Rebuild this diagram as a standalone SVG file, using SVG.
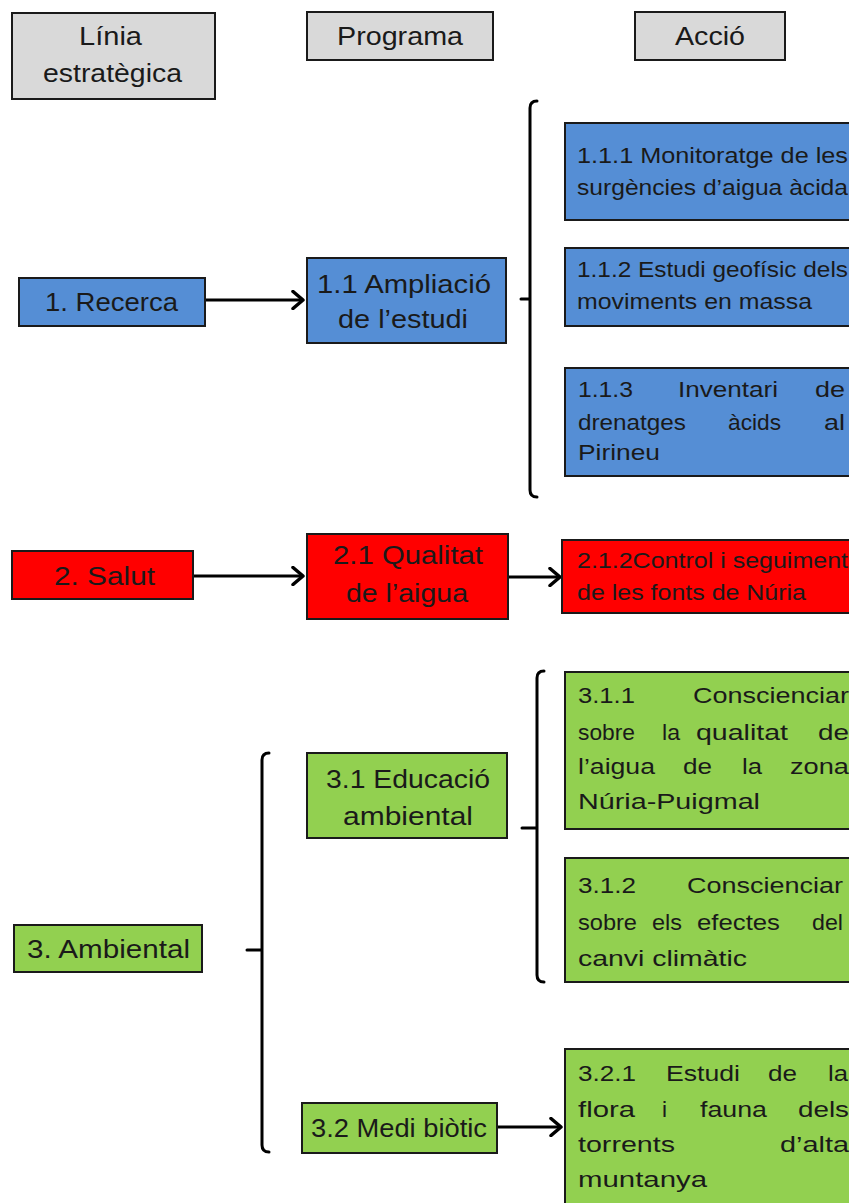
<svg xmlns="http://www.w3.org/2000/svg" width="849" height="1203" viewBox="0 0 849 1203">
<defs>
<style>
.hdr{fill:#d9d9d9;stroke:#1a1a1a;stroke-width:2}
.blue{fill:#558ed5;stroke:#1a1a1a;stroke-width:2}
.red{fill:#ff0000;stroke:#1a1a1a;stroke-width:2}
.green{fill:#92d050;stroke:#1a1a1a;stroke-width:2}
text{font-family:"Liberation Sans",Arial,sans-serif;fill:#1a1a1a}
.big{font-size:26px}
.sm{font-size:22px}
.c{text-anchor:middle}
.conn{stroke:#000;stroke-width:3;fill:none}
.br{stroke:#000;stroke-width:3;fill:none;stroke-linecap:round;stroke-linejoin:round}
</style>
<marker id="arr" viewBox="0 0 14 20" refX="12" refY="10" markerWidth="14" markerHeight="20" markerUnits="userSpaceOnUse" orient="auto">
<path d="M2,1.5 L12,10 L2,18.5" fill="none" stroke="#000" stroke-width="3.5" stroke-linecap="round" stroke-linejoin="round"/>
</marker>
</defs>

<g id="h1"><rect class="hdr" x="12" y="13" width="203" height="86"/>
<text class="big" x="79" y="45" textLength="63" lengthAdjust="spacingAndGlyphs">Línia</text>
<text class="big" x="43" y="82" textLength="139" lengthAdjust="spacingAndGlyphs">estratègica</text></g>
<g id="h2"><rect class="hdr" x="307" y="12" width="186" height="48"/>
<text class="big" x="337" y="45" textLength="126" lengthAdjust="spacingAndGlyphs">Programa</text></g>
<g id="h3"><rect class="hdr" x="635" y="12" width="150" height="48"/>
<text class="big" x="675" y="45" textLength="70" lengthAdjust="spacingAndGlyphs">Acció</text></g>

<g id="connectors">
<line class="conn" x1="205" y1="300" x2="303" y2="300" marker-end="url(#arr)"/>
<line class="conn" x1="193" y1="576" x2="303" y2="576" marker-end="url(#arr)"/>
<line class="conn" x1="508" y1="577" x2="560" y2="577" marker-end="url(#arr)"/>
<line class="conn" x1="497" y1="1127" x2="561" y2="1127" marker-end="url(#arr)"/>
<path class="br" d="M537,101 Q530,101 530,108 L530,490 Q530,497 537,497 M530,299 L521,299"/>
<path class="br" d="M269,753 Q262,753 262,760 L262,1145 Q262,1152 269,1152 M262,950 L247,950"/>
<path class="br" d="M544,671 Q537,671 537,678 L537,975 Q537,982 544,982 M537,828 L522,828"/>
</g>

<g id="n1"><rect class="blue" x="19" y="278" width="186" height="48"/>
<text class="big" x="45" y="311" textLength="133" lengthAdjust="spacingAndGlyphs">1. Recerca</text></g>
<g id="n11"><rect class="blue" x="307" y="258" width="199" height="85"/>
<text class="big" x="317" y="293" textLength="174" lengthAdjust="spacingAndGlyphs">1.1 Ampliació</text>
<text class="big" x="338" y="328" textLength="130" lengthAdjust="spacingAndGlyphs">de l’estudi</text></g>
<g id="n111"><rect class="blue" x="565" y="123" width="295" height="97"/>
<text class="sm" x="577" y="163" textLength="271" lengthAdjust="spacingAndGlyphs">1.1.1 Monitoratge de les</text>
<text class="sm" x="577" y="195" textLength="271" lengthAdjust="spacingAndGlyphs">surgències d’aigua àcida</text></g>
<g id="n112"><rect class="blue" x="565" y="248" width="295" height="78"/>
<text class="sm" x="577" y="277" textLength="271" lengthAdjust="spacingAndGlyphs">1.1.2 Estudi geofísic dels</text>
<text class="sm" x="577" y="309" textLength="235" lengthAdjust="spacingAndGlyphs">moviments en massa</text></g>
<g id="n113"><rect class="blue" x="565" y="368" width="295" height="108"/>
<text class="sm" x="578" y="397" textLength="55" lengthAdjust="spacingAndGlyphs">1.1.3</text>
<text class="sm" x="678" y="397" textLength="100" lengthAdjust="spacingAndGlyphs">Inventari</text>
<text class="sm" x="815" y="397" textLength="30" lengthAdjust="spacingAndGlyphs">de</text>
<text class="sm" x="578" y="430" textLength="108" lengthAdjust="spacingAndGlyphs">drenatges</text>
<text class="sm" x="728" y="430" textLength="53" lengthAdjust="spacingAndGlyphs">àcids</text>
<text class="sm" x="824" y="430" textLength="21" lengthAdjust="spacingAndGlyphs">al</text>
<text class="sm" x="578" y="460" textLength="82" lengthAdjust="spacingAndGlyphs">Pirineu</text></g>

<g id="n2"><rect class="red" x="12" y="551" width="181" height="48"/>
<text class="big" x="54" y="585" textLength="101" lengthAdjust="spacingAndGlyphs">2. Salut</text></g>
<g id="n21"><rect class="red" x="307" y="534" width="201" height="85"/>
<text class="big" x="333" y="564" textLength="150" lengthAdjust="spacingAndGlyphs">2.1 Qualitat</text>
<text class="big" x="346" y="602" textLength="122" lengthAdjust="spacingAndGlyphs">de l’aigua</text></g>
<g id="n212"><rect class="red" x="562" y="540" width="298" height="73"/>
<text class="sm" x="577" y="568" textLength="271" lengthAdjust="spacingAndGlyphs">2.1.2Control i seguiment</text>
<text class="sm" x="577" y="600" textLength="229" lengthAdjust="spacingAndGlyphs">de les fonts de Núria</text></g>

<g id="n3"><rect class="green" x="14" y="925" width="188" height="47"/>
<text class="big" x="27" y="958" textLength="163" lengthAdjust="spacingAndGlyphs">3. Ambiental</text></g>
<g id="n31"><rect class="green" x="307" y="753" width="200" height="85"/>
<text class="big" x="326" y="788" textLength="164" lengthAdjust="spacingAndGlyphs">3.1 Educació</text>
<text class="big" x="343" y="825" textLength="130" lengthAdjust="spacingAndGlyphs">ambiental</text></g>
<g id="n311"><rect class="green" x="565" y="672" width="295" height="157"/>
<text class="sm" x="578" y="703" textLength="57" lengthAdjust="spacingAndGlyphs">3.1.1</text>
<text class="sm" x="693" y="703" textLength="156" lengthAdjust="spacingAndGlyphs">Conscienciar</text>
<text class="sm" x="578" y="740" textLength="57" lengthAdjust="spacingAndGlyphs">sobre</text>
<text class="sm" x="662" y="740" textLength="18" lengthAdjust="spacingAndGlyphs">la</text>
<text class="sm" x="696" y="740" textLength="92" lengthAdjust="spacingAndGlyphs">qualitat</text>
<text class="sm" x="818" y="740" textLength="31" lengthAdjust="spacingAndGlyphs">de</text>
<text class="sm" x="578" y="774" textLength="77" lengthAdjust="spacingAndGlyphs">l’aigua</text>
<text class="sm" x="683" y="774" textLength="29" lengthAdjust="spacingAndGlyphs">de</text>
<text class="sm" x="742" y="774" textLength="20" lengthAdjust="spacingAndGlyphs">la</text>
<text class="sm" x="790" y="774" textLength="59" lengthAdjust="spacingAndGlyphs">zona</text>
<text class="sm" x="578" y="809" textLength="182" lengthAdjust="spacingAndGlyphs">Núria-Puigmal</text></g>
<g id="n312"><rect class="green" x="565" y="858" width="295" height="124"/>
<text class="sm" x="578" y="893" textLength="58" lengthAdjust="spacingAndGlyphs">3.1.2</text>
<text class="sm" x="687" y="893" textLength="156" lengthAdjust="spacingAndGlyphs">Conscienciar</text>
<text class="sm" x="578" y="930" textLength="59" lengthAdjust="spacingAndGlyphs">sobre</text>
<text class="sm" x="652" y="930" textLength="30" lengthAdjust="spacingAndGlyphs">els</text>
<text class="sm" x="697" y="930" textLength="83" lengthAdjust="spacingAndGlyphs">efectes</text>
<text class="sm" x="812" y="930" textLength="31" lengthAdjust="spacingAndGlyphs">del</text>
<text class="sm" x="578" y="966" textLength="169" lengthAdjust="spacingAndGlyphs">canvi climàtic</text></g>
<g id="n32"><rect class="green" x="302" y="1103" width="195" height="50"/>
<text class="big" x="311" y="1137" textLength="176" lengthAdjust="spacingAndGlyphs">3.2 Medi biòtic</text></g>
<g id="n321"><rect class="green" x="565" y="1049" width="295" height="170"/>
<text class="sm" x="578" y="1081" textLength="58" lengthAdjust="spacingAndGlyphs">3.2.1</text>
<text class="sm" x="666" y="1081" textLength="74" lengthAdjust="spacingAndGlyphs">Estudi</text>
<text class="sm" x="768" y="1081" textLength="29" lengthAdjust="spacingAndGlyphs">de</text>
<text class="sm" x="828" y="1081" textLength="20" lengthAdjust="spacingAndGlyphs">la</text>
<text class="sm" x="578" y="1117" textLength="57" lengthAdjust="spacingAndGlyphs">flora</text>
<text class="sm" x="662" y="1117" textLength="5" lengthAdjust="spacingAndGlyphs">i</text>
<text class="sm" x="700" y="1117" textLength="67" lengthAdjust="spacingAndGlyphs">fauna</text>
<text class="sm" x="798" y="1117" textLength="51" lengthAdjust="spacingAndGlyphs">dels</text>
<text class="sm" x="578" y="1152" textLength="97" lengthAdjust="spacingAndGlyphs">torrents</text>
<text class="sm" x="780" y="1152" textLength="69" lengthAdjust="spacingAndGlyphs">d’alta</text>
<text class="sm" x="578" y="1187" textLength="129" lengthAdjust="spacingAndGlyphs">muntanya</text></g>
</svg>
